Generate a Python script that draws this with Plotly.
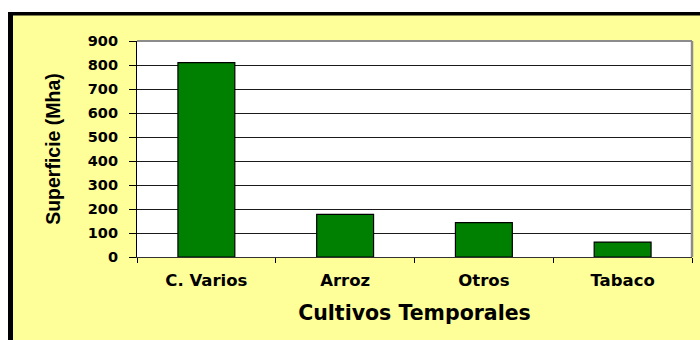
import plotly.graph_objects as go

# Superficie de cultivos temporales (miles de hectáreas)
cultivos = ["C. Varios", "Arroz", "Otros", "Tabaco"]
superficie = [810, 178, 143, 62]
y_ticks = [0, 100, 200, 300, 400, 500, 600, 700, 800, 900]

W, H = 700, 340
L, R, T, B = 137, 692, 41, 257  # plot area in pixels


def px_x(p):
    return (p - L) / (R - L)


def px_y(p):
    return (B - p) / (B - T)


fig = go.Figure(
    go.Bar(
        x=cultivos,
        y=superficie,
        width=0.41,
        marker=dict(color="#008000", line=dict(color="#000000", width=1.2)),
    )
)

shapes = [
    # white strip above and left of the frame
    dict(type="rect", xref="paper", yref="paper", x0=px_x(0), x1=px_x(W), y0=px_y(0), y1=px_y(12),
         fillcolor="white", line_width=0, layer="below"),
    dict(type="rect", xref="paper", yref="paper", x0=px_x(0), x1=px_x(8), y0=px_y(0), y1=px_y(H),
         fillcolor="white", line_width=0, layer="below"),
    # black frame edges
    dict(type="rect", xref="paper", yref="paper", x0=px_x(8), x1=px_x(W), y0=px_y(12), y1=px_y(15.5),
         fillcolor="black", line_width=0, layer="below"),
    dict(type="rect", xref="paper", yref="paper", x0=px_x(8), x1=px_x(13), y0=px_y(12), y1=px_y(H),
         fillcolor="black", line_width=0, layer="below"),
    # grey border of the plot area (top and right)
    dict(type="line", xref="paper", yref="paper", x0=0, x1=1, y0=1, y1=1,
         line=dict(color="#8c8c8c", width=2), layer="above"),
    dict(type="line", xref="paper", yref="paper", x0=1, x1=1, y0=0, y1=1,
         line=dict(color="#8c8c8c", width=2.5), layer="above"),
]

fig.update_layout(
    width=W,
    height=H,
    margin=dict(l=L, r=W - R, t=T, b=H - B, pad=0),
    paper_bgcolor="#FFFF99",
    plot_bgcolor="white",
    showlegend=False,
    shapes=shapes,
    bargap=0.59,
)

fig.update_yaxes(
    range=[0, 900],
    tickvals=y_ticks,
    ticktext=[str(v) for v in y_ticks],
    showgrid=True,
    gridcolor="#1a1a1a",
    gridwidth=1,
    zeroline=False,
    showline=True,
    linecolor="#000000",
    linewidth=1.2,
    ticks="outside",
    ticklen=7,
    tickcolor="#000000",
    tickwidth=1,
    ticklabelstandoff=8,
    tickfont=dict(family="DejaVu Sans", size=14.5, color="black", weight="bold"),
    title=dict(
        text="Superficie (Mha)",
        font=dict(family="Liberation Sans", size=19.5, color="black", weight="bold"),
        standoff=21,
    ),
)

fig.update_xaxes(
    showgrid=False,
    showline=True,
    linecolor="#333333",
    linewidth=1.2,
    ticks="outside",
    tickson="boundaries",
    ticklen=5,
    tickcolor="#000000",
    tickwidth=1,
    ticklabelstandoff=8,
    tickfont=dict(family="DejaVu Sans", size=16.5, color="black", weight="bold"),
    title=dict(
        text="Cultivos Temporales",
        font=dict(family="DejaVu Sans", size=20.5, color="black", weight="bold"),
        standoff=16,
    ),
)

fig.write_html("out.html")
